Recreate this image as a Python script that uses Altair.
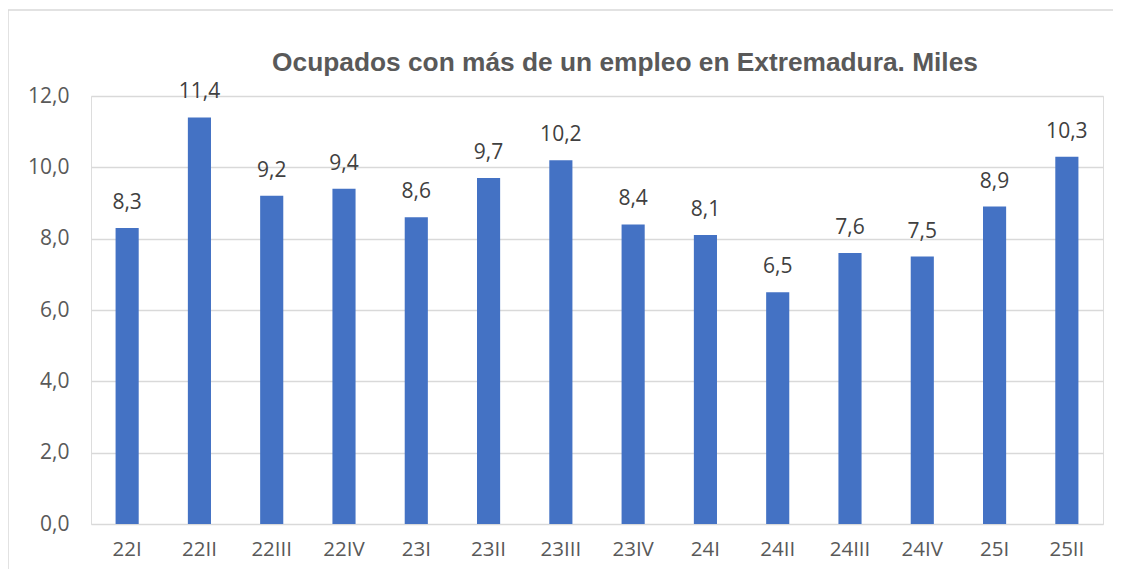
import altair as alt
import pandas as pd

categories = ["22I", "22II", "22III", "22IV", "23I", "23II", "23III", "23IV",
              "24I", "24II", "24III", "24IV", "25I", "25II"]
values = [8.3, 11.4, 9.2, 9.4, 8.6, 9.7, 10.2, 8.4, 8.1, 6.5, 7.6, 7.5, 8.9, 10.3]
y_ticks = [0, 2, 4, 6, 8, 10, 12]
title_text = "Ocupados con más de un empleo en Extremadura. Miles"

df = pd.DataFrame({"periodo": categories, "valor": values})
df["etiqueta"] = [f"{v:.1f}".replace(".", ",") for v in values]

W, H = 1012, 428
FONT = "Open Sans"

x_enc = alt.X("periodo:N", sort=categories, title=None,
              scale=alt.Scale(paddingInner=0.68, paddingOuter=0.34),
              axis=alt.Axis(labelAngle=0, ticks=False, domain=False,
                            labelFont=FONT, labelFontSize=20.5, labelColor="#595959",
                            labelPadding=15, grid=False))
y_enc = alt.Y("valor:Q", title=None,
              scale=alt.Scale(domain=[0, 12], nice=False),
              axis=alt.Axis(values=y_ticks, domain=False, ticks=False,
                            labelFont=FONT, labelFontSize=21, labelColor="#595959",
                            labelPadding=22, gridColor="#d9d9d9", gridWidth=1.5,
                            labelExpr="replace(format(datum.value, '.1f'), '.', ',')"))

base = alt.Chart(df)

border = alt.Chart(pd.DataFrame({"a": [0]})).mark_rect(
    fill="transparent", stroke="#d9d9d9", strokeWidth=1.5
).encode(x=alt.value(-83), x2=alt.value(1200), y=alt.value(-86), y2=alt.value(700))

bars = base.mark_bar(color="#4472C4").encode(x=x_enc, y=y_enc)

labels = base.mark_text(dy=-25, baseline="middle", font=FONT, fontSize=21,
                        color="#404040").encode(
    x=alt.X("periodo:N", sort=categories),
    y="valor:Q",
    text="etiqueta:N")

title = alt.Chart(pd.DataFrame({"t": [title_text]})).mark_text(
    font="Liberation Sans", fontWeight="bold", fontSize=26.3, color="#595959",
    align="center", baseline="middle"
).encode(x=alt.value(534), y=alt.value(-33), text="t:N")

chart = alt.layer(border, bars, labels, title).properties(
    width=W, height=H,
    autosize=alt.AutoSizeParams(type="none"),
    padding={"left": 83, "top": 88, "right": 10, "bottom": 45}
).configure_view(strokeWidth=0, stroke="transparent").configure(background="white")

chart.save("out.html", embed_options={"renderer": "svg", "actions": False})
